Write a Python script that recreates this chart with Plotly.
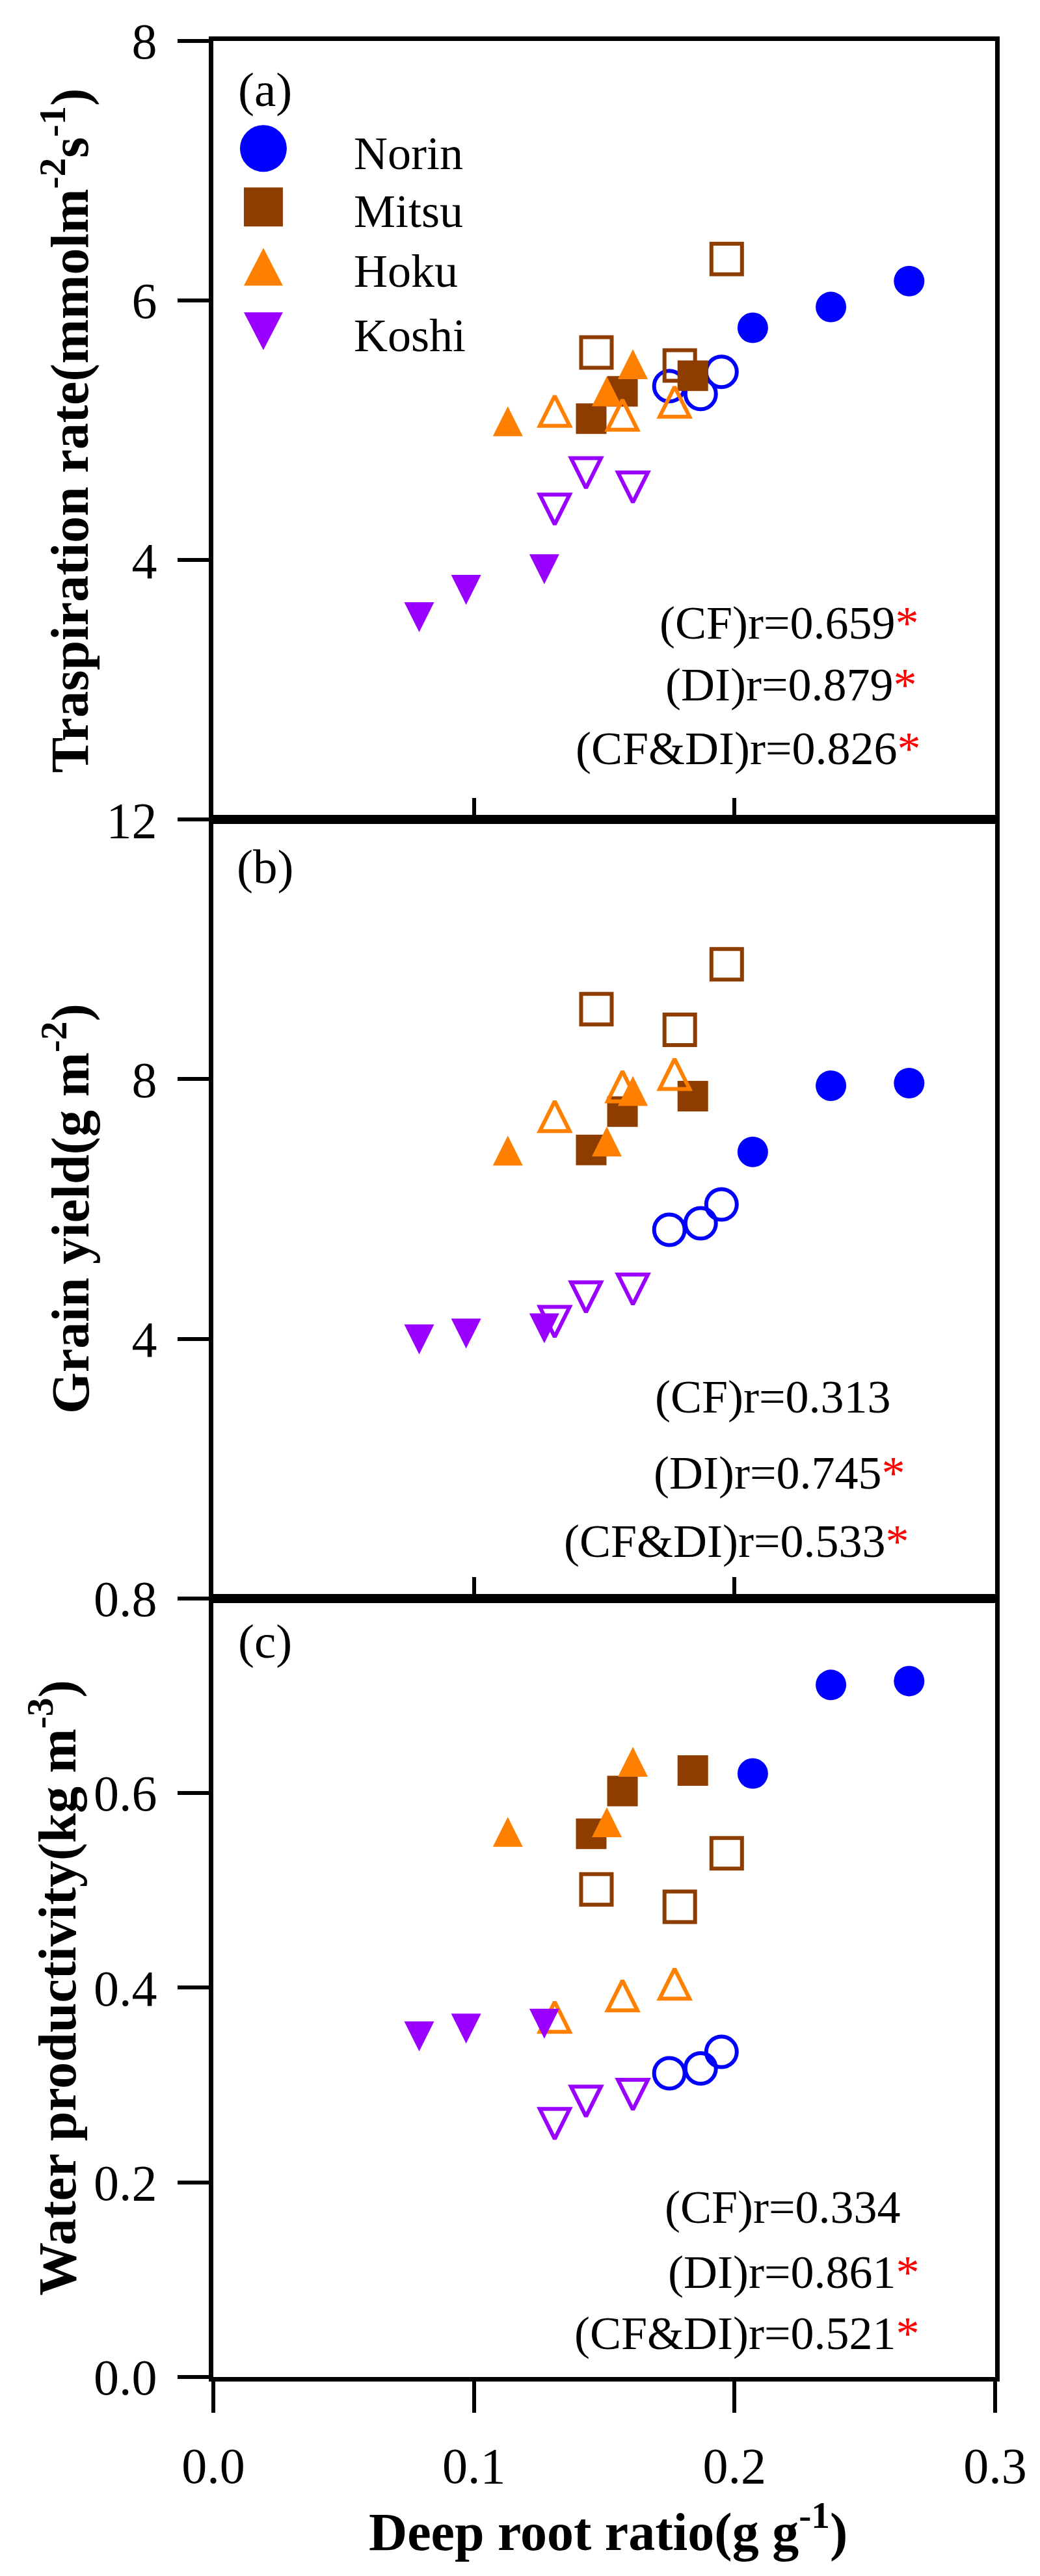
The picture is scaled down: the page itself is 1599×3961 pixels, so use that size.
import plotly.graph_objects as go
from plotly.subplots import make_subplots

# deep root ratio (g g-1), filled = CF, open = DI
norin_cf_x = [0.207, 0.237, 0.267]
norin_di_x = [0.175, 0.187, 0.195]
mitsu_cf_x = [0.145, 0.157, 0.184]
mitsu_di_x = [0.147, 0.179, 0.197]
hoku_cf_x = [0.113, 0.151, 0.161]
hoku_di_x = [0.131, 0.157, 0.177]
koshi_cf_x = [0.079, 0.097, 0.127]
koshi_di_x = [0.131, 0.143, 0.161]

# (a) transpiration rate
norin_cf_tr = [5.79, 5.95, 6.15]
norin_di_tr = [5.34, 5.28, 5.45]
mitsu_cf_tr = [5.09, 5.30, 5.42]
mitsu_di_tr = [5.60, 5.50, 6.32]
hoku_cf_tr = [5.07, 5.30, 5.51]
hoku_di_tr = [5.15, 5.12, 5.22]
koshi_cf_tr = [3.56, 3.77, 3.93]
koshi_di_tr = [4.39, 4.67, 4.56]

# (b) grain yield
norin_cf_gy = [6.88, 7.90, 7.94]
norin_di_gy = [5.68, 5.78, 6.07]
mitsu_cf_gy = [6.91, 7.50, 7.74]
mitsu_di_gy = [9.08, 8.76, 9.77]
hoku_cf_gy = [6.90, 7.04, 7.82]
hoku_di_gy = [7.43, 7.89, 8.08]
koshi_cf_gy = [3.99, 4.08, 4.16]
koshi_di_gy = [4.26, 4.64, 4.76]

# (c) water productivity
norin_cf_wp = [0.620, 0.711, 0.715]
norin_di_wp = [0.312, 0.317, 0.334]
mitsu_cf_wp = [0.558, 0.602, 0.623]
mitsu_di_wp = [0.501, 0.483, 0.538]
hoku_cf_wp = [0.560, 0.570, 0.632]
hoku_di_wp = [0.370, 0.392, 0.404]
koshi_cf_wp = [0.350, 0.358, 0.363]
koshi_di_wp = [0.260, 0.283, 0.290]

varieties = ["Norin", "Mitsu", "Hoku", "Koshi"]
colors = ["#0000FF", "#8E3D00", "#FF8000", "#9900FF"]

r_text = [
    ["(CF)r=0.659*", "(DI)r=0.879*", "(CF&DI)r=0.826*"],
    ["(CF)r=0.313", "(DI)r=0.745*", "(CF&DI)r=0.533*"],
    ["(CF)r=0.334", "(DI)r=0.861*", "(CF&DI)r=0.521*"],
]
panel_tags = ["(a)", "(b)", "(c)"]
y_titles = [
    "Traspiration rate(mmolm<sup>-2</sup>s<sup>-1</sup>)",
    "Grain yield(g m<sup>-2</sup>)",
    "Water productivity(kg m<sup>-3</sup>)",
]

FONT = "Liberation Serif"

fig = make_subplots(rows=3, cols=1, vertical_spacing=0)

panels = [
    [norin_cf_tr, norin_di_tr, mitsu_cf_tr, mitsu_di_tr, hoku_cf_tr, hoku_di_tr, koshi_cf_tr, koshi_di_tr],
    [norin_cf_gy, norin_di_gy, mitsu_cf_gy, mitsu_di_gy, hoku_cf_gy, hoku_di_gy, koshi_cf_gy, koshi_di_gy],
    [norin_cf_wp, norin_di_wp, mitsu_cf_wp, mitsu_di_wp, hoku_cf_wp, hoku_di_wp, koshi_cf_wp, koshi_di_wp],
]
xs = [norin_cf_x, norin_di_x, mitsu_cf_x, mitsu_di_x, hoku_cf_x, hoku_di_x, koshi_cf_x, koshi_di_x]
# triangles use the arrow symbol (taller than plotly's triangle), centred with standoff
symbols = ["circle", "square", "arrow-down", "arrow-down"]
angles = [0, 0, 180, 0]
sizes = [47, 47, 46, 46]

for row, ys in enumerate(panels, start=1):
    for k in range(8):
        v = k // 2
        is_open = k % 2 == 1
        sym = symbols[v] + ("-open" if is_open else "")
        marker = dict(symbol=sym, size=sizes[v], color=colors[v], angle=angles[v],
                      line=dict(width=6 if is_open else 0, color=colors[v]))
        if v >= 2:
            marker["standoff"] = sizes[v] / 2
        fig.add_trace(go.Scatter(x=xs[k], y=ys[k], mode="markers", marker=marker,
                                 name=varieties[v], showlegend=False), row=row, col=1)

axis_common = dict(showline=True, linewidth=7, linecolor="black", mirror=True,
                   showgrid=False, zeroline=False, tickcolor="black", tickwidth=6,
                   tickfont=dict(family=FONT, size=78, color="black"))

for row in (1, 2):
    fig.update_xaxes(range=[0, 0.3], ticks="inside", ticklen=33, tickvals=[0.1, 0.2],
                     showticklabels=False, row=row, col=1, **axis_common)
fig.update_xaxes(range=[0, 0.3], ticks="outside", ticklen=48, tickvals=[0, 0.1, 0.2, 0.3],
                 ticktext=["0.0", "0.1", "0.2", "0.3"], ticklabelstandoff=14,
                 row=3, col=1, **axis_common)

fig.update_yaxes(range=[2, 8], tickvals=[4, 6, 8], row=1, col=1)
fig.update_yaxes(range=[0, 12], tickvals=[4, 8, 12], row=2, col=1)
fig.update_yaxes(range=[0, 0.8], tickvals=[0, 0.2, 0.4, 0.6, 0.8],
                 ticktext=["0.0", "0.2", "0.4", "0.6", "0.8"], row=3, col=1)
fig.update_yaxes(ticks="outside", ticklen=48, ticklabelstandoff=16, **axis_common)

# panel tags, r values and y titles
tag_y = [0.938, 0.940, 0.945]
r_rows = [[0.2529, 0.1728, 0.0910], [0.2588, 0.1611, 0.0735], [0.2177, 0.1343, 0.0559]]
r_right = [[0.9043, 0.9018, 0.9068], [0.8686, 0.887, 0.8915], [0.881, 0.905, 0.905]]
title_x = [-0.189, -0.188, -0.205]
for i in range(3):
    yd = "y domain" if i == 0 else f"y{i + 1} domain"
    fig.add_annotation(text=panel_tags[i], xref="paper", x=0.066, yref=yd, y=tag_y[i],
                       xanchor="center", yanchor="middle", showarrow=False,
                       font=dict(family=FONT, size=75, color="black"))
    fig.add_annotation(text="<b>" + y_titles[i] + "</b>", xref="paper", x=title_x[i],
                       yref=yd, y=0.5, textangle=-90, xanchor="center", yanchor="middle",
                       showarrow=False, font=dict(family=FONT, size=82, color="black"))
    for j, t in enumerate(r_text[i]):
        if t.endswith("*"):
            t = t[:-1] + "<span style='color:red'>*</span>"
        fig.add_annotation(text=t, xref="paper", x=r_right[i][j], yref=yd, y=r_rows[i][j],
                           xanchor="right", yanchor="middle", showarrow=False,
                           font=dict(family=FONT, size=72, color="black"))

fig.add_annotation(text="<b>Deep root ratio(g g<sup>-1</sup>)</b>", xref="paper", x=0.505,
                   yref="paper", y=-0.0648, xanchor="center", yanchor="middle",
                   showarrow=False, font=dict(family=FONT, size=82, color="black"))

# legend drawn by hand so the symbols can be as large as in the original
leg_x = 0.064
leg_text_x = 0.178
leg_y = [0.8619, 0.7868, 0.7100, 0.6273]
leg_text_y = [0.8553, 0.7813, 0.7045, 0.6219]
for i, name in enumerate(varieties):
    base = dict(xref="paper", yref="y domain", xsizemode="pixel", ysizemode="pixel",
                xanchor=leg_x, yanchor=leg_y[i], fillcolor=colors[i], line=dict(width=0))
    if i == 0:
        fig.add_shape(type="circle", x0=-36, x1=36, y0=-36, y1=36, **base)
    elif i == 1:
        fig.add_shape(type="rect", x0=-30, x1=30, y0=-30, y1=30, **base)
    elif i == 2:
        fig.add_shape(type="path", path="M-30,-29 L30,-29 L0,29 Z", **base)
    else:
        fig.add_shape(type="path", path="M-30,29 L30,29 L0,-29 Z", **base)
    fig.add_annotation(text=name, xref="paper", x=leg_text_x, yref="y domain", y=leg_text_y[i],
                       xanchor="left", yanchor="middle", showarrow=False,
                       font=dict(family=FONT, size=72, color="black"))

fig.update_layout(
    width=1599, height=3961,
    margin=dict(l=320, r=77, t=52, b=314),
    plot_bgcolor="white", paper_bgcolor="white",
    showlegend=False,
    font=dict(family=FONT, color="black"),
)

fig.write_html("out.html")
